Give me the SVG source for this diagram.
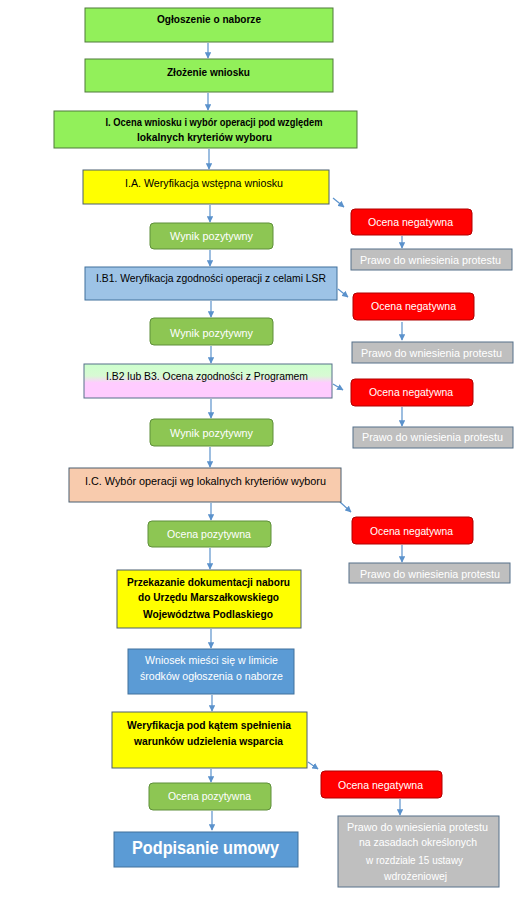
<svg xmlns="http://www.w3.org/2000/svg" width="525" height="897" viewBox="0 0 525 897">
<style>
text{font-family:"Liberation Sans",Arial,sans-serif;font-size:11px;text-anchor:middle}
.b{font-weight:bold;fill:#000}
.dk{fill:#000}
.w{fill:#fff}
.lime{fill:#92F05A;stroke:#4F7A3A;stroke-width:1}
.yel{fill:#FFFF00;stroke:#4A5F70;stroke-width:1}
.grn{fill:#8DC653;stroke:#5E8F3A;stroke-width:1}
.red{fill:#FF0000;stroke:#B00000;stroke-width:1}
.gray{fill:#BFBFBF;stroke:#56708A;stroke-width:1}
.lblue{fill:#9DC3E6;stroke:#41719C;stroke-width:1}
.org{fill:#F8CBAD;stroke:#4A5F70;stroke-width:1}
.blue{fill:#5B9BD5;stroke:#41719C;stroke-width:1}
.grad{fill:url(#gp);stroke:#56708A;stroke-width:1}
#connectors line{stroke:#5B92CC;stroke-width:1.2;marker-end:url(#ah)}
</style>
<defs>
<linearGradient id="gp" x1="0" y1="0" x2="0" y2="1">
<stop offset="0" stop-color="#CCFFCC"/>
<stop offset="0.35" stop-color="#D8FAD4"/>
<stop offset="0.55" stop-color="#FFCCFF"/>
<stop offset="1" stop-color="#FFCCFF"/>
</linearGradient>
<marker id="ah" viewBox="0 0 10 10" refX="9" refY="5" markerWidth="6.5" markerHeight="6.5" orient="auto" markerUnits="userSpaceOnUse">
<path d="M0,0 L10,5 L0,10 z" fill="#5B92CC"/>
</marker>
</defs>
<rect width="525" height="897" fill="#fff"/>

<g id="connectors">
<line x1="208" y1="43" x2="208" y2="58"/>
<line x1="208" y1="93" x2="208" y2="110"/>
<line x1="209" y1="149" x2="209" y2="169"/>
<line x1="210" y1="205" x2="210" y2="222"/>
<line x1="210" y1="250" x2="210" y2="266"/>
<line x1="211" y1="301" x2="211" y2="317"/>
<line x1="211" y1="346" x2="211" y2="363"/>
<line x1="211" y1="399" x2="211" y2="418"/>
<line x1="210" y1="447" x2="210" y2="467"/>
<line x1="211" y1="503" x2="211" y2="520"/>
<line x1="210" y1="548" x2="210" y2="569"/>
<line x1="211" y1="629" x2="211" y2="648"/>
<line x1="212" y1="695" x2="212" y2="711"/>
<line x1="211" y1="769" x2="211" y2="782"/>
<line x1="212" y1="811" x2="212" y2="830"/>
<line x1="333" y1="198" x2="344" y2="207"/>
<line x1="338" y1="289" x2="348" y2="297"/>
<line x1="333" y1="384" x2="343" y2="390"/>
<line x1="340" y1="502" x2="351" y2="512"/>
<line x1="308" y1="762" x2="318" y2="769"/>
<line x1="402" y1="236" x2="402" y2="248"/>
<line x1="402" y1="322" x2="402" y2="340"/>
<line x1="402" y1="407" x2="402" y2="426"/>
<line x1="402" y1="545" x2="402" y2="562"/>
<line x1="400" y1="799" x2="400" y2="815"/>
</g>

<g id="n1"><rect class="lime" x="85" y="8" width="248" height="34"/>
<text class="b" x="209" y="23" textLength="104" lengthAdjust="spacingAndGlyphs">Ogłoszenie o naborze</text></g>

<g id="n2"><rect class="lime" x="85" y="59" width="248" height="33"/>
<text class="b" x="208.5" y="76" textLength="83" lengthAdjust="spacingAndGlyphs">Złożenie wniosku</text></g>

<g id="n3"><rect class="lime" x="54" y="111" width="303" height="37"/>
<text class="b" x="214" y="126" textLength="217" lengthAdjust="spacingAndGlyphs">I. Ocena wniosku i wybór operacji pod względem</text>
<text class="b" x="204.5" y="141" textLength="135" lengthAdjust="spacingAndGlyphs">lokalnych kryteriów wyboru</text></g>

<g id="n4"><rect class="yel" x="83" y="170" width="246" height="34"/>
<text class="dk" x="204" y="187" textLength="158" lengthAdjust="spacingAndGlyphs">I.A. Weryfikacja wstępna wniosku</text></g>

<g id="n5"><rect class="grn" x="150" y="223" width="123" height="26" rx="4"/>
<text class="w" x="211.5" y="240" textLength="83" lengthAdjust="spacingAndGlyphs">Wynik pozytywny</text></g>

<g id="n6"><rect class="red" x="351" y="209" width="121" height="26" rx="4"/>
<text class="w" x="410.5" y="226" textLength="85" lengthAdjust="spacingAndGlyphs">Ocena negatywna</text></g>

<g id="n7"><rect class="gray" x="351" y="249" width="161" height="21"/>
<text class="w" x="430.5" y="264" textLength="141" lengthAdjust="spacingAndGlyphs">Prawo do wniesienia protestu</text></g>

<g id="n8"><rect class="lblue" x="85" y="267" width="252" height="33"/>
<text class="dk" x="211" y="282" textLength="230" lengthAdjust="spacingAndGlyphs">I.B1. Weryfikacja zgodności operacji z celami LSR</text></g>

<g id="n9"><rect class="red" x="353" y="293" width="121" height="27" rx="4"/>
<text class="w" x="413.5" y="310" textLength="85" lengthAdjust="spacingAndGlyphs">Ocena negatywna</text></g>

<g id="n10"><rect class="grn" x="150" y="318" width="123" height="27" rx="4"/>
<text class="w" x="211.5" y="337" textLength="83" lengthAdjust="spacingAndGlyphs">Wynik pozytywny</text></g>

<g id="n11"><rect class="gray" x="352" y="342" width="161" height="21"/>
<text class="w" x="431.5" y="357" textLength="141" lengthAdjust="spacingAndGlyphs">Prawo do wniesienia protestu</text></g>

<g id="n12"><rect class="grad" x="84" y="364" width="248" height="34"/>
<text class="dk" x="207" y="380" textLength="202" lengthAdjust="spacingAndGlyphs">I.B2 lub B3. Ocena zgodności z Programem</text></g>

<g id="n13"><rect class="red" x="351" y="379" width="122" height="27" rx="4"/>
<text class="w" x="411" y="396" textLength="84" lengthAdjust="spacingAndGlyphs">Ocena negatywna</text></g>

<g id="n14"><rect class="grn" x="150" y="419" width="123" height="27" rx="4"/>
<text class="w" x="211.5" y="437" textLength="83" lengthAdjust="spacingAndGlyphs">Wynik pozytywny</text></g>

<g id="n15"><rect class="gray" x="353" y="427" width="160" height="21"/>
<text class="w" x="432.5" y="441" textLength="141" lengthAdjust="spacingAndGlyphs">Prawo do wniesienia protestu</text></g>

<g id="n16"><rect class="org" x="69" y="468" width="272" height="34"/>
<text class="dk" x="205.5" y="485" textLength="241" lengthAdjust="spacingAndGlyphs">I.C. Wybór operacji wg lokalnych kryteriów wyboru</text></g>

<g id="n17"><rect class="grn" x="148" y="521" width="123" height="26" rx="4"/>
<text class="w" x="209" y="538" textLength="84" lengthAdjust="spacingAndGlyphs">Ocena pozytywna</text></g>

<g id="n18"><rect class="red" x="352" y="517" width="121" height="27" rx="4"/>
<text class="w" x="411.5" y="535" textLength="83" lengthAdjust="spacingAndGlyphs">Ocena negatywna</text></g>

<g id="n19"><rect class="gray" x="349" y="563" width="161" height="20"/>
<text class="w" x="430" y="578" textLength="140" lengthAdjust="spacingAndGlyphs">Prawo do wniesienia protestu</text></g>

<g id="n20"><rect class="yel" x="117" y="570" width="184" height="58"/>
<text class="b" x="208.5" y="586" textLength="163" lengthAdjust="spacingAndGlyphs">Przekazanie dokumentacji naboru</text>
<text class="b" x="208.5" y="601" textLength="141" lengthAdjust="spacingAndGlyphs">do Urzędu Marszałkowskiego</text>
<text class="b" x="208" y="618" textLength="130" lengthAdjust="spacingAndGlyphs">Województwa Podlaskiego</text></g>

<g id="n21"><rect class="blue" x="128" y="649" width="166" height="45"/>
<text class="w" x="211.5" y="664" textLength="133" lengthAdjust="spacingAndGlyphs">Wniosek mieści się w limicie</text>
<text class="w" x="211.5" y="680" textLength="143" lengthAdjust="spacingAndGlyphs">środków ogłoszenia o naborze</text></g>

<g id="n22"><rect class="yel" x="112" y="712" width="195" height="56"/>
<text class="b" x="209" y="729" textLength="164" lengthAdjust="spacingAndGlyphs">Weryfikacja pod kątem spełnienia</text>
<text class="b" x="208.5" y="745" textLength="149" lengthAdjust="spacingAndGlyphs">warunków udzielenia wsparcia</text></g>

<g id="n23"><rect class="red" x="321" y="771" width="121" height="27" rx="4"/>
<text class="w" x="380.5" y="789" textLength="85" lengthAdjust="spacingAndGlyphs">Ocena negatywna</text></g>

<g id="n24"><rect class="grn" x="149" y="783" width="122" height="27" rx="4"/>
<text class="w" x="209.5" y="800" textLength="83" lengthAdjust="spacingAndGlyphs">Ocena pozytywna</text></g>

<g id="n25"><rect class="blue" x="114" y="832" width="184" height="35"/>
<text class="w" x="205.5" y="854" style="font-size:19px;font-weight:bold" textLength="147" lengthAdjust="spacingAndGlyphs">Podpisanie umowy</text></g>

<g id="n26"><rect class="gray" x="338" y="816" width="161" height="71"/>
<text class="w" x="417.5" y="831" textLength="141" lengthAdjust="spacingAndGlyphs">Prawo do wniesienia protestu</text>
<text class="w" x="418" y="846" textLength="118" lengthAdjust="spacingAndGlyphs">na zasadach określonych</text>
<text class="w" x="414.5" y="864" textLength="97" lengthAdjust="spacingAndGlyphs">w rozdziale 15 ustawy</text>
<text class="w" x="415.5" y="880" textLength="63" lengthAdjust="spacingAndGlyphs">wdrożeniowej</text></g>
</svg>
